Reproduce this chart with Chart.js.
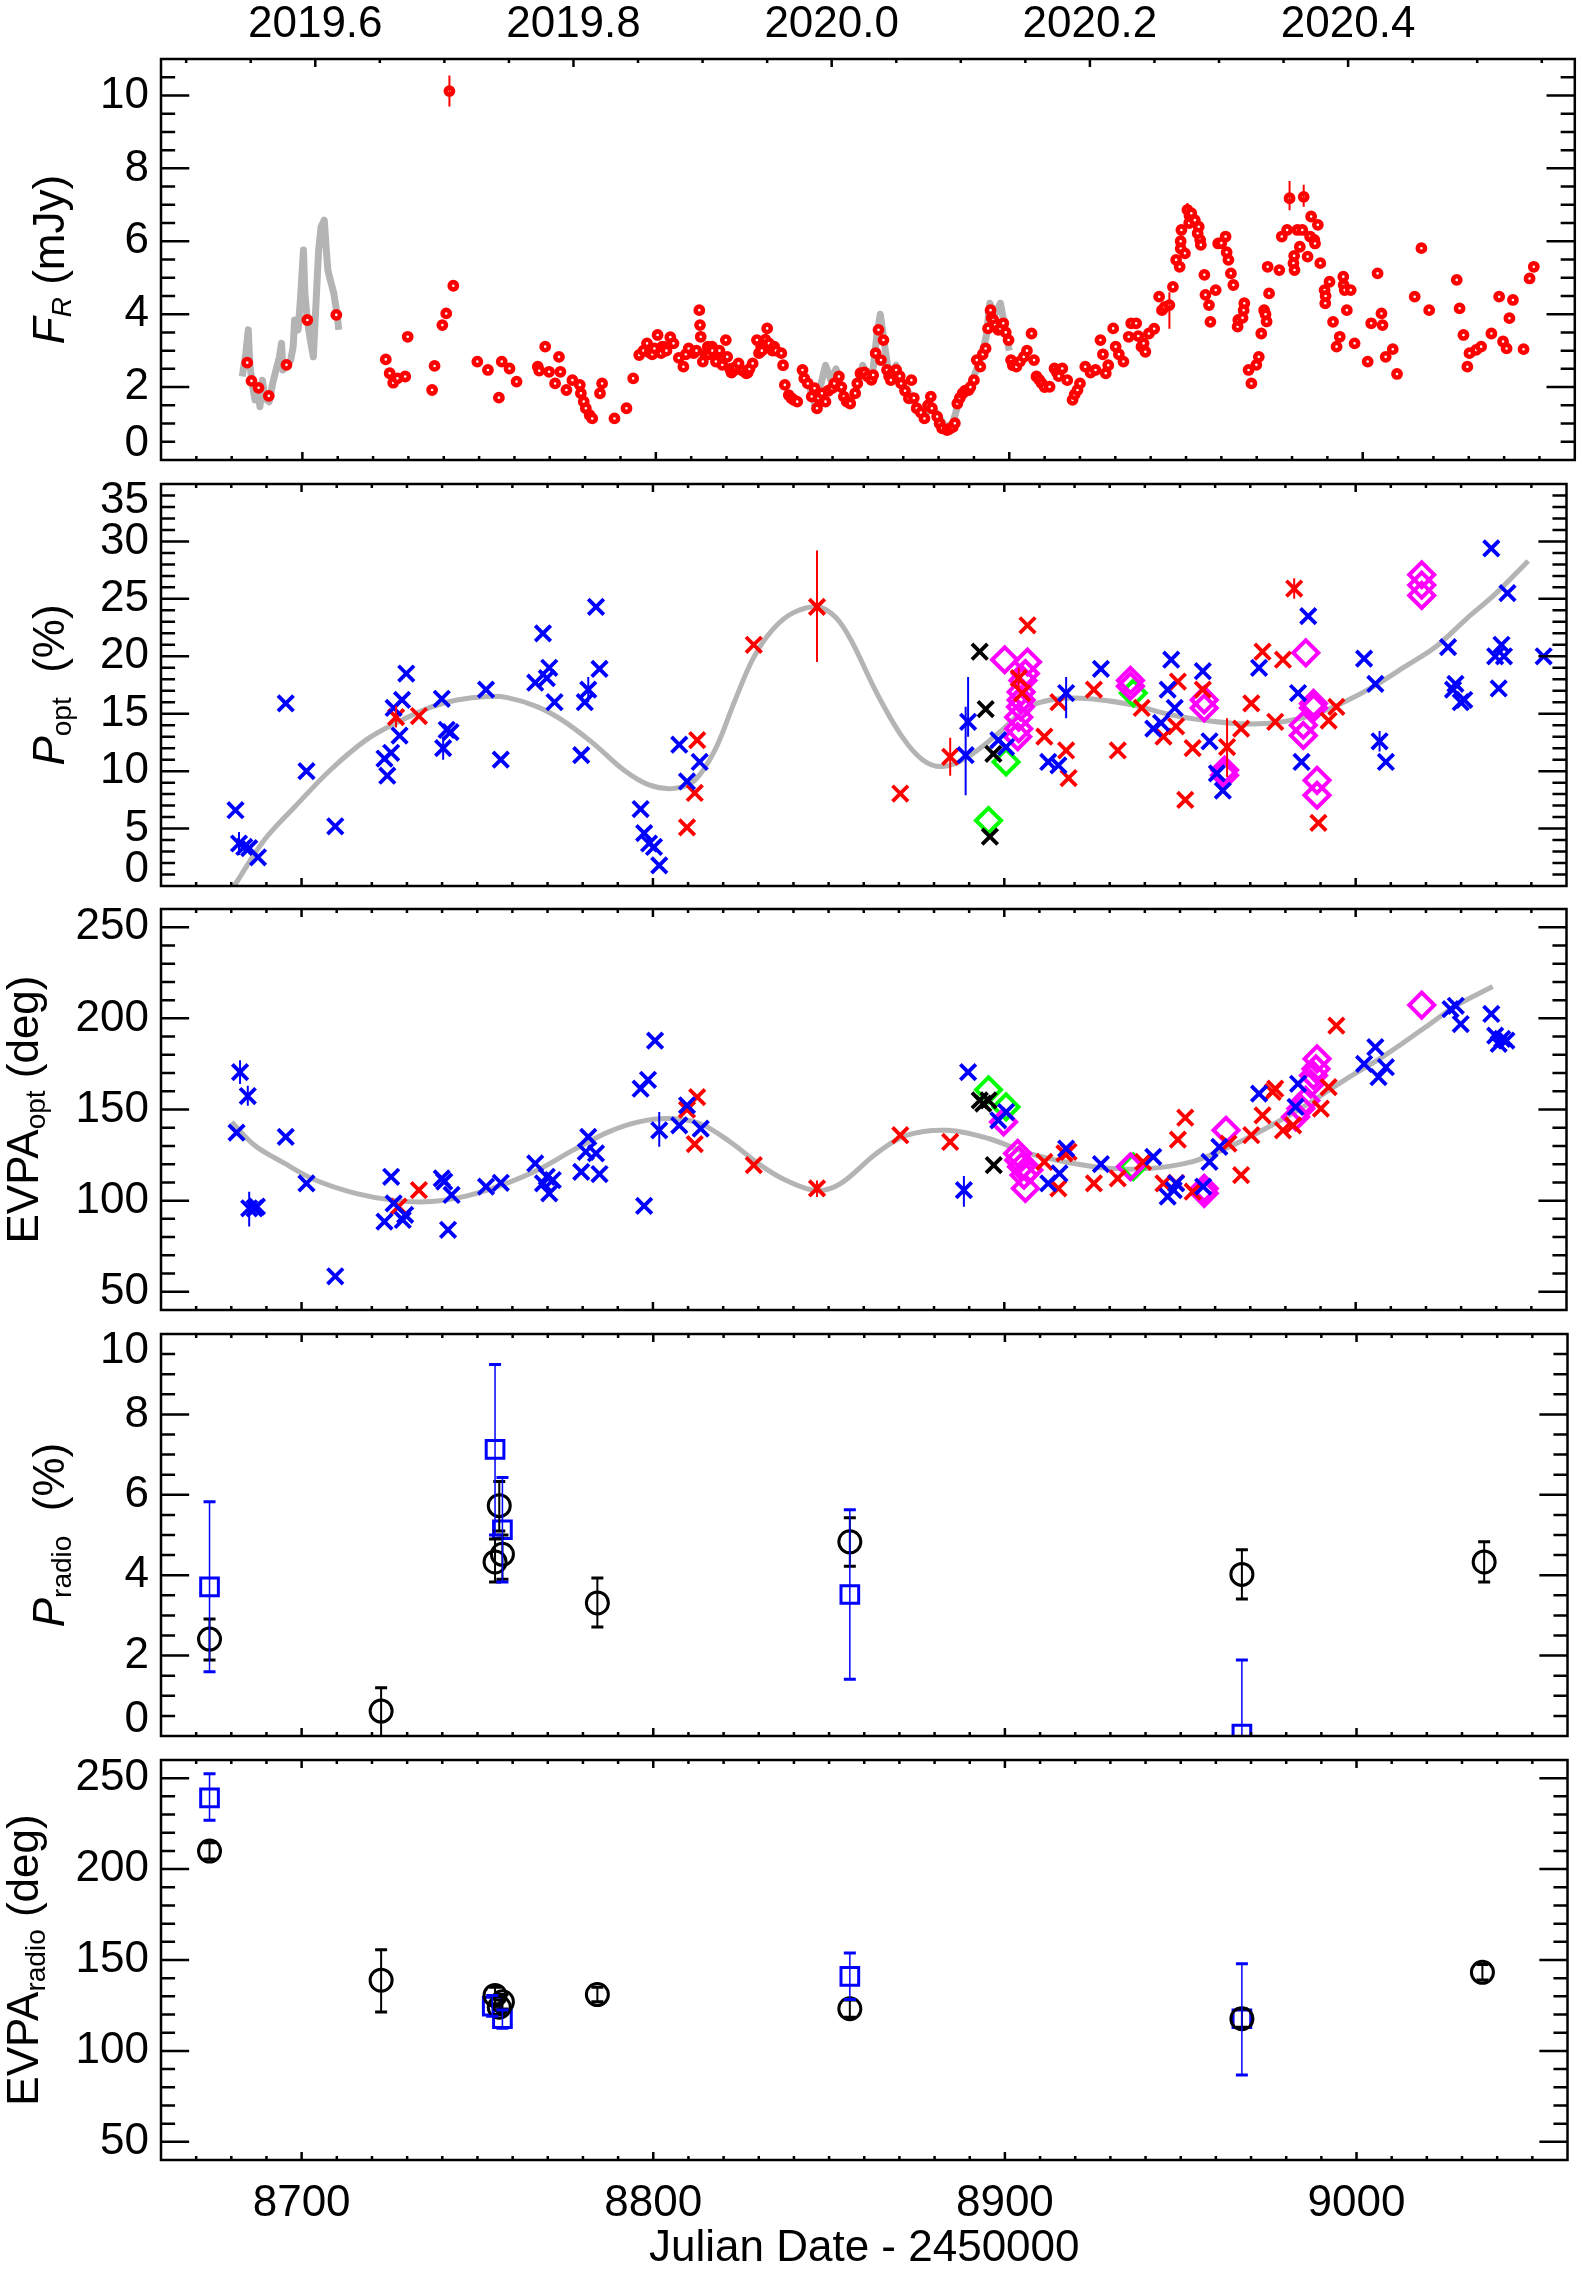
<!DOCTYPE html>
<html><head><meta charset="utf-8">
<script src="https://cdn.jsdelivr.net/npm/chart.js@4.4.1/dist/chart.umd.min.js"></script>
<style>
html,body{margin:0;padding:0;background:#fff;}
body{width:1583px;height:2271px;position:relative;overflow:hidden;}
canvas{position:absolute;left:0;}
</style></head><body>
<canvas id="c1"></canvas><canvas id="c2"></canvas><canvas id="c3"></canvas><canvas id="c4"></canvas><canvas id="c5"></canvas>
<script>
// ---------------- DATA ----------------
const jdRange = [8660, 9060];
const yearRange = [2019.4805, 2020.5756];
const jdTicks = [8700, 8800, 8900, 9000];
const yearTicks = [2019.6, 2019.8, 2020.0, 2020.2, 2020.4];
const fluxTicks = [0, 2, 4, 6, 8, 10];
const poptTicks = [0, 5, 10, 15, 20, 25, 30, 35];
const evpaTicks = [50, 100, 150, 200, 250];
const pradTicks = [0, 2, 4, 6, 8, 10];
const xTitle = 'Julian Date - 2450000';

// Panel 1: R-band flux (mJy)
const fluxRed = [[8684.4,2.67],[8685.6,2.17],[8687.6,1.98],[8690.5,1.76],[8695.5,2.61],[8701.4,3.84],[8709.6,3.98],[8723.6,2.76],[8724.7,2.38],[8725.7,2.12],[8726.9,2.24],[8729.1,2.29],[8729.8,3.38],[8736.7,1.92],[8737.4,2.58],[8739.6,3.70],[8740.7,4.02],[8741.6,10.12],[8742.7,4.78],[8749.5,2.70],[8752.5,2.47],[8755.6,1.71],[8756.4,2.70],[8758.6,2.51],[8760.6,2.15],[8766.6,2.56],[8767.0,2.45],[8768.7,3.11],[8769.8,2.42],[8771.5,2.10],[8772.6,2.83],[8773.0,2.42],[8774.7,1.92],[8776.4,2.19],[8778.5,2.06],[8778.8,1.83],[8779.6,1.60],[8780.2,1.42],[8781.3,1.23],[8782.0,1.14],[8784.2,1.83],[8784.8,2.10],[8788.3,1.14],[8791.7,1.42],[8793.6,2.24],[8795.3,2.88],[8796.5,3.00],[8797.5,3.20],[8798.2,2.95],[8799.0,2.90],[8799.6,3.06],[8800.5,3.43],[8801.5,2.93],[8801.8,3.11],[8802.5,3.10],[8803.0,3.00],[8804.1,3.37],[8805.0,3.20],[8806.5,2.80],[8807.8,2.56],[8808.5,2.90],[8809.3,3.06],[8810.7,2.93],[8811.5,3.00],[8812.3,4.11],[8812.5,3.70],[8812.7,3.38],[8813.3,2.70],[8814.0,2.90],[8814.7,3.11],[8815.0,2.90],[8815.9,3.11],[8816.0,3.00],[8816.9,2.83],[8817.0,2.70],[8817.9,2.93],[8818.0,3.00],[8818.8,2.61],[8819.0,2.80],[8819.8,3.29],[8820.2,2.83],[8821.0,2.50],[8821.4,2.40],[8822.0,2.45],[8822.5,2.55],[8823.4,2.65],[8824.5,2.45],[8825.6,2.38],[8826.0,2.40],[8826.5,2.50],[8827.4,2.65],[8828.6,3.29],[8829.2,2.93],[8829.8,3.10],[8830.0,3.00],[8831.0,3.30],[8831.5,3.61],[8832.0,3.20],[8833.0,3.00],[8833.5,3.11],[8834.0,3.00],
[8835.5,2.93],[8836.0,2.60],[8836.5,2.06],[8837.6,1.78],[8838.3,1.70],[8839.0,1.65],[8840.0,1.60],[8841.5,2.47],[8842.0,2.24],[8843.0,2.10],[8844.1,1.74],[8844.9,1.97],[8845.6,1.42],[8846.0,1.70],[8847.0,1.83],[8848.0,1.60],[8848.8,1.90],[8849.9,1.97],[8850.5,2.10],[8851.8,2.29],[8852.5,2.00],[8853.2,1.74],[8854.0,1.60],[8855.0,1.55],[8856.4,1.83],[8857.0,2.10],[8857.9,2.38],[8859.0,2.40],[8860.0,2.29],[8861.0,2.20],[8861.5,2.33],[8862.2,2.93],[8863.0,3.57],[8863.7,2.74],[8864.4,3.29],[8865.4,2.47],[8866.0,2.30],[8866.5,2.19],[8867.0,2.40],[8868.0,2.47],[8869.0,2.30],[8869.4,2.10],[8870.5,1.90],[8871.6,1.69],[8872.3,2.19],[8873.0,1.70],[8873.8,1.42],[8875.0,1.30],[8876.0,1.14],[8877.0,1.50],[8877.8,1.74],[8878.1,1.42],[8879.6,1.19],[8880.3,1.00],[8881.0,0.87],[8882.4,0.82],[8883.0,0.85],[8884.0,0.90],[8884.6,1.01],[8885.3,1.55],[8886.0,1.70],[8886.8,1.83],[8887.5,1.90],[8888.5,1.92],[8889.0,2.00],[8890.0,2.19],[8890.8,2.74],[8891.8,2.56],[8892.5,2.90],[8893.3,3.06],[8894.0,3.61],[8894.7,4.11],[8895.0,3.90],[8895.5,3.84],[8896.0,3.70],[8896.9,3.57],[8897.5,3.60],[8898.3,3.75],[8899.0,3.50],[8899.8,3.29],[8900.5,2.74],[8901.0,2.60],[8902.0,2.56],[8903.0,2.70],[8904.1,2.83],[8905.0,3.00],[8906.3,3.47],[8907.0,2.74],[8907.7,2.29],[8908.5,2.20],[8909.2,2.10],[8910.0,2.00],[8911.4,2.01],[8912.8,2.51],[8913.5,2.40],[8914.0,2.30],[8915.0,2.51],[8916.4,2.19],[8917.9,1.65],[8918.5,1.80],[8919.3,1.92],[8920.0,2.10],[8921.5,2.56],[8923.0,2.40],[8924.4,2.47],[8925.8,3.29],[8926.5,2.90],[8927.3,2.38],[8928.0,2.60],[8929.4,3.61],[8930.1,3.11],[8931.0,2.90],[8932.3,2.70],[8933.8,3.38],[8934.5,3.75],[8935.9,3.75],[8936.5,3.40],[8937.4,3.11],[8938.0,3.20],[8938.5,2.97],[8939.5,3.47],[8941.0,3.60],[8942.4,4.48],[8943.2,4.11],[8944.0,4.20],[8945.3,4.25],[8946.3,4.75],[8947.2,5.49],[8948.2,5.30],[8948.5,5.80],[8948.5,6.00],[8948.7,6.31],[8949.7,5.67],[8950.4,6.86],[8950.9,6.50],[8951.0,6.70],[8951.5,6.77],[8952.5,6.58],[8953.3,6.22],[8953.6,6.40],[8954.0,6.04],[8954.2,5.90],[8955.2,5.08],[8955.5,4.53],[8956.5,4.25],[8956.9,3.79],[8958.4,4.66],[8959.1,5.94],[8960.0,5.95],[8961.2,6.13],[8961.5,5.70],[8962.0,5.49],[8962.7,5.12],[8963.4,4.80],[8964.6,3.66],[8964.8,3.84],[8966.0,3.90],[8966.3,4.11],[8966.5,4.30],[8967.7,2.47],[8968.5,2.10],[8969.9,2.61],[8970.6,2.83],[8971.3,3.47],[8972.1,4.11],[8972.5,4.00],[8972.8,3.80],[8973.1,5.30],[8973.5,4.57],[8976.4,5.21],[8977.1,6.13],[8978.6,6.31],[8979.3,7.18],[8980.4,5.40],[8980.6,5.60],[8980.7,5.21],[8981.5,6.31],[8982.2,5.85],[8982.9,6.31],[8983.3,7.22],[8984.4,5.58],[8985.1,6.13],[8985.4,6.68],[8986.3,6.04],[8986.5,5.94],[8987.3,6.45],[8988.0,5.40],[8989.2,4.66],[8989.4,4.30],[8989.5,4.50],[8990.6,4.89],[8991.6,3.79],[8992.6,3.11],[8993.5,3.38],[8994.5,5.03],[8994.6,4.80],[8994.9,4.66],[8995.5,4.11],[8996.6,4.66],[8997.7,3.20],[9001.4,2.70],[9002.4,3.75],[9004.2,5.12],[9005.3,4.02],[9005.6,3.70],[9006.5,2.83],[9008.5,3.04],[9009.7,2.36],[9014.7,4.48],[9016.6,5.81],[9018.8,4.11],[9026.6,4.94],[9027.4,4.16],[9028.5,3.43],[9029.6,2.56],[9030.2,2.93],[9032.1,3.02],[9033.5,3.11],[9036.4,3.47],[9038.6,4.48],[9039.7,3.25],[9040.7,3.06],[9041.5,3.89],[9042.5,4.39],[9045.5,3.04],[9047.2,4.98],[9048.4,5.30]];
const fluxRedErr = [[8741.6,9.70,10.55],[8945.3,3.60,4.60],[8950.4,6.75,7.05],[8979.3,6.85,7.65],[8983.3,6.95,7.55]];
const fluxGrayA = [[8683.0,2.29],[8683.4,2.56],[8684.0,2.93],[8684.7,3.57],[8685.1,2.65],[8685.8,2.10],[8686.6,1.65],[8687.3,1.92],[8688.0,1.46],[8688.7,2.19],[8689.4,1.69],[8690.6,1.60],[8691.6,2.10],[8692.3,2.38],[8693.5,2.83],[8694.1,3.20],[8694.5,2.47],[8695.5,2.56],[8696.7,2.74],[8697.4,3.11],[8697.8,3.84],[8698.8,3.57],[8699.5,4.48],[8700.3,5.76],[8700.7,4.57],[8701.4,3.84],[8702.1,3.38],[8703.1,2.83],[8703.9,4.39],[8704.6,5.76],[8705.3,6.40],[8706.2,6.58],[8706.7,5.85],[8707.2,5.21],[8707.9,4.94],[8708.9,4.57],[8709.9,3.93],[8710.3,3.57]];
const fluxGrayB = [[8841.0,2.5],[8842.0,2.3],[8843.5,2.0],[8845.0,1.5],[8846.5,2.0],[8848.0,2.6],[8849.5,2.2],[8851.0,2.5],[8853.0,1.8],[8855.0,1.6],[8857.0,2.0],[8858.5,2.6],[8860.0,2.3],[8861.5,2.5],[8862.5,3.4],[8863.5,4.0],[8864.5,3.3],[8866.0,2.3],[8868.0,2.6],[8870.0,2.0],[8872.0,1.8],[8874.0,1.4],[8876.0,1.2],[8878.0,1.5],[8880.0,1.2],[8882.0,0.9],[8884.0,1.0],[8886.0,1.7],[8888.0,1.9],[8890.0,2.3],[8892.0,2.8],[8893.5,3.4],[8894.5,4.3],[8896.0,4.0],[8897.5,4.3],[8899.0,3.5],[8900.0,3.0]];

// Panel 2: optical polarization degree (%)
const poptBlue = [[8681.2,6.6],[8682.2,3.7],[8683.7,3.4],[8685.1,3.3],[8687.6,2.5],[8695.5,15.9],[8701.4,10.0],[8709.6,5.2],[8723.6,11.1],[8724.4,9.6],[8725.5,11.6],[8726.2,15.5],[8727.9,13.1],[8728.6,16.2],[8729.8,18.5],[8739.9,16.3],[8740.3,12.0],[8741.3,13.6],[8742.4,13.4],[8752.5,17.1],[8756.7,11.0],[8766.5,17.7],[8768.7,22.0],[8769.8,18.1],[8770.5,19.0],[8772.0,16.0],[8779.6,11.4],[8780.6,16.0],[8781.6,17.1],[8783.8,24.3],[8784.8,18.9],[8796.5,6.7],[8797.5,4.6],[8798.9,3.7],[8800.3,3.4],[8801.8,1.8],[8807.5,12.3],[8809.7,9.1],[8813.3,10.8],[8889.0,11.4],[8889.7,14.3],[8898.3,12.7],[8900.5,12.1],[8912.5,10.8],[8915.4,10.5],[8917.6,16.8],[8927.5,18.9],[8942.4,13.7],[8944.6,14.2],[8946.5,17.1],[8947.5,19.7],[8948.5,15.5],[8956.5,18.7],[8958.4,12.6],[8960.5,9.8],[8962.2,8.3],[8972.5,19.0],[8983.6,16.8],[8984.6,10.8],[8986.5,23.5],[9002.4,19.8],[9005.6,17.6],[9006.8,12.6],[9008.6,10.8],[9026.3,20.8],[9027.7,17.1],[9028.4,17.6],[9029.9,16.0],[9030.9,16.2],[9038.6,29.4],[9039.7,20.0],[9040.7,17.2],[9041.5,21.0],[9042.2,20.0],[9043.2,25.5],[9053.5,20.0]];
const poptRed = [[8726.9,14.7],[8733.4,14.8],[8809.7,5.1],[8811.9,8.1],[8812.6,12.7],[8828.7,21.0],[8846.7,24.3],[8870.4,8.05],[8884.6,11.25],[8904.1,18.1],[8905.1,16.8],[8906.6,22.7],[8911.4,13.0],[8915.4,16.0],[8917.6,11.8],[8918.3,9.4],[8925.5,17.1],[8932.3,11.8],[8939.1,15.5],[8945.3,13.0],[8948.9,13.9],[8949.4,17.8],[8951.5,7.5],[8953.6,12.0],[8956.5,17.1],[8963.4,12.1],[8967.4,13.7],[8970.3,15.9],[8973.5,20.4],[8977.1,14.3],[8979.3,19.7],[8982.5,25.9],[8989.4,5.5],[8992.3,14.4],[8994.5,15.6]];
const poptBlack = [[8893.0,20.4],[8894.7,15.4],[8896.9,11.5],[8895.9,4.3]];
const poptMagenta = [[8900.1,19.7],[8906.6,19.5],[8906.0,18.5],[8905.3,17.9],[8904.8,16.9],[8904.8,16.2],[8904.6,15.6],[8904.1,14.7],[8904.1,13.7],[8903.8,13.0],[8935.9,17.9],[8935.9,17.4],[8956.9,16.2],[8956.9,15.5],[8962.7,10.1],[8962.7,9.65],[8985.8,20.3],[8988.0,15.9],[8988.0,15.5],[8985.1,14.0],[8985.1,13.1],[8989.0,9.2],[8989.0,7.9],[9018.8,27.1],[9018.8,26.2],[9018.8,25.3]];
const poptGreen = [[8900.5,10.8],[8895.5,5.7],[8936.7,16.8]];
const poptBlueErr = [[8682.2,2.7,4.7],[8740.3,11.0,13.0],[8781.6,16.0,18.2],[8889.0,7.9,15.6],[8889.7,13.0,18.2],[8917.6,14.6,18.2],[9006.8,11.7,13.5]];
const poptRedErr = [[8726.9,13.8,15.7],[8846.7,19.5,29.2],[8884.6,9.6,12.9],[8904.1,17.0,19.0],[8963.4,9.5,14.6],[8982.5,25.0,26.8]];
const poptFit = [[8680.8,0.0],[8689.4,4.0],[8698.1,6.9],[8708.2,10.1],[8718.3,12.7],[8726.9,14.2],[8737.0,15.6],[8744.2,16.2],[8752.8,16.5],[8758.6,16.4],[8767.2,15.6],[8774.4,14.4],[8783.1,12.4],[8791.7,10.1],[8798.9,8.8],[8806.1,8.5],[8811.9,9.2],[8817.6,11.8],[8823.4,16.2],[8828.5,19.8],[8834.0,22.3],[8840.0,23.8],[8847.0,24.3],[8852.0,23.4],[8856.4,21.4],[8863.7,16.8],[8870.9,13.0],[8876.7,11.0],[8882.4,10.4],[8889.7,11.25],[8898.3,13.3],[8907.0,15.6],[8915.7,16.3],[8924.4,16.3],[8936.0,15.8],[8947.5,14.9],[8957.6,14.4],[8969.2,14.1],[8979.3,14.3],[8988.0,14.9],[8996.6,16.0],[9005.3,17.4],[9014.0,19.1],[9022.7,20.8],[9031.3,23.2],[9040.0,25.5],[9049.1,28.3]];

// Panel 3: optical EVPA (deg)
const evpaBlue = [[8681.5,137.3],[8682.5,170.5],[8684.7,157.4],[8685.1,95.8],[8686.6,95.8],[8687.3,96.7],[8695.5,135.0],[8701.4,109.5],[8709.6,58.5],[8723.6,88.5],[8725.5,113.1],[8726.2,98.5],[8728.8,89.4],[8729.5,92.2],[8739.9,112.2],[8740.6,110.4],[8741.7,84.0],[8742.7,103.1],[8752.5,107.7],[8756.7,109.8],[8766.5,120.4],[8768.7,109.5],[8769.8,113.1],[8770.5,104.0],[8771.5,111.3],[8779.6,115.8],[8780.9,126.8],[8781.6,135.0],[8783.8,125.9],[8784.8,114.6],[8796.5,161.4],[8797.5,97.1],[8798.6,166.3],[8800.6,187.8],[8801.8,138.6],[8807.5,141.3],[8809.7,152.3],[8813.6,139.5],[8888.5,105.8],[8889.7,170.5],[8898.3,144.1],[8900.5,148.6],[8912.5,109.5],[8915.7,114.9],[8917.6,128.6],[8927.5,120.0],[8942.4,124.0],[8946.5,102.2],[8948.2,105.8],[8948.9,109.5],[8956.6,107.7],[8958.4,121.3],[8961.2,129.5],[8972.5,158.7],[8982.9,151.4],[8983.6,164.1],[9002.4,175.0],[9005.6,184.2],[9006.5,167.8],[9008.6,173.2],[9027.0,205.1],[9028.5,206.9],[9029.9,196.9],[9038.6,202.4],[9039.7,190.5],[9040.7,186.0],[9041.7,188.7],[9042.9,187.8]];
const evpaRed = [[8727.6,96.7],[8733.4,105.8],[8809.7,149.9],[8811.9,131.0],[8812.6,156.8],[8828.7,119.5],[8846.7,106.7],[8870.4,135.9],[8884.6,132.2],[8911.4,121.3],[8915.4,106.7],[8917.1,125.9],[8918.3,126.8],[8925.5,109.5],[8932.3,112.2],[8939.5,121.3],[8945.3,109.5],[8948.9,109.8],[8949.4,133.5],[8951.5,145.5],[8953.6,104.9],[8963.8,131.3],[8967.4,114.0],[8970.3,135.9],[8973.5,146.8],[8976.4,159.6],[8977.1,161.4],[8979.3,138.6],[8982.2,141.3],[8990.1,150.5],[8992.3,162.3],[8994.5,196.0]];
const evpaBlack = [[8893.0,155.0],[8894.0,153.2],[8895.5,155.0],[8897.0,119.5]];
const evpaMagenta = [[8899.8,143.2],[8903.8,125.9],[8904.1,122.2],[8904.9,118.6],[8905.6,114.0],[8906.0,106.7],[8907.0,116.8],[8935.9,118.6],[8956.9,106.7],[8956.9,104.0],[8963.1,138.6],[8982.9,145.9],[8984.4,150.5],[8985.8,155.0],[8987.2,164.1],[8988.0,168.7],[8988.7,172.3],[8989.0,177.8],[9018.8,207.3]];
const evpaGreen = [[8895.5,160.8],[8900.5,151.4],[8936.7,118.6]];
const evpaBlueErr = [[8682.5,164.0,177.0],[8684.7,152.0,163.0],[8685.1,85.8,104.9],[8801.8,129.5,148.6],[8888.5,96.7,113.5]];
const evpaRedErr = [[8846.7,102.0,111.0]];
const evpaFit = [[8680.1,143.2],[8686.6,130.4],[8695.2,120.4],[8703.9,111.3],[8715.4,104.0],[8726.9,100.0],[8737.0,99.5],[8747.1,102.6],[8757.1,108.6],[8767.2,116.8],[8777.3,127.7],[8787.4,137.7],[8796.0,143.2],[8804.7,145.0],[8813.3,142.3],[8822.0,132.2],[8830.6,119.5],[8838.0,111.0],[8846.7,105.5],[8853.5,109.5],[8863.6,125.9],[8872.3,135.9],[8883.9,138.6],[8895.5,134.1],[8907.0,125.9],[8918.6,120.8],[8930.2,117.7],[8941.7,117.7],[8953.3,121.3],[8962.0,127.7],[8973.5,138.6],[8985.1,151.4],[8996.6,165.9],[9008.2,179.6],[9019.8,195.1],[9028.5,206.9],[9039.0,217.5]];

// Panel 4: radio polarization degree (%)
const pradBlack = [[8673.8,2.41],[8722.6,0.62],[8755.0,4.33],[8756.2,5.73],[8757.1,4.52],[8784.1,3.31],[8855.9,4.83],[8967.4,4.02],[9036.3,4.33]];
const pradBlackErr = [[1.89,2.91],[-0.2,1.2],[3.83,4.9],[5.1,6.33],[3.9,5.0],[2.71,3.93],[4.22,5.43],[3.41,4.63],[3.83,4.83]];
const pradBlue = [[8673.8,3.71],[8755.0,7.13],[8757.1,5.13],[8855.9,3.52],[8967.4,0.05]];
const pradBlueErr = [[1.6,5.83],[5.0,9.24],[3.83,6.43],[1.41,5.63],[-1.0,1.89]];

// Panel 5: radio EVPA (deg)
const evrBlack = [[8673.8,209.9],[8722.6,138.9],[8755.0,130.5],[8756.2,124.0],[8757.1,127.0],[8784.1,131.0],[8855.9,123.2],[8967.4,117.7],[9035.8,143.2]];
const evrBlackErr = [[205.5,214.5],[121.4,155.7],[126,135],[120,128],[123,131],[127,135],[118.5,128],[113,123],[139,147.5]];
const evrBlue = [[8673.8,239.2],[8754.2,124.6],[8757.1,117.7],[8855.9,141.0],[8967.4,117.7]];
const evrBlueErr = [[226.8,252.4],[119,130.5],[112.5,122.5],[128.3,153.8],[86.7,148.0]];

// ---------------- LAYOUT / STYLE ----------------
const FIG_W = 1583, FIG_H = 2271, PLOT_L = 161, PLOT_R = 1578, EXTRA = 60;
const PANELS = [[59,460],[484,886],[909,1310],[1334,1736],[1760,2160]];
const FONT = "'Liberation Sans', Arial, Helvetica, sans-serif";
Chart.defaults.font.family = FONT;
Chart.defaults.font.size = 44;
Chart.defaults.color = '#000';

const SIDE = {};

function tickVals(min, max, step){
  const out=[]; const k0=Math.ceil(min/step-1e-7), k1=Math.floor(max/step+1e-7);
  for(let k=k0;k<=k1;k++) out.push(k*step);
  return out;
}
function isMul(v, s){ const r=v/s; return Math.abs(r-Math.round(r))<1e-6; }

const idlAxes = {
  id:'idlAxes',
  afterDraw(chart){
    const o = SIDE[chart.canvas.id]; if(!o) return;
    const ctx=chart.ctx, a=chart.chartArea;
    const W=a.right-a.left, H=a.bottom-a.top;
    ctx.save();
    ctx.strokeStyle='#000'; ctx.lineWidth=2.5; ctx.lineCap='butt';
    ctx.beginPath();
    const ys=chart.scales.y;
    for(const v of tickVals(ys.min, ys.max, o.yMinor)){
      if(Math.abs(v-ys.min)<1e-7||Math.abs(v-ys.max)<1e-7) continue;
      const L = isMul(v,o.yMajor)?0.02*W:0.01*W;
      const p = ys.getPixelForValue(v);
      ctx.moveTo(a.left,p); ctx.lineTo(a.left+L,p);
      ctx.moveTo(a.right,p); ctx.lineTo(a.right-L,p);
    }
    const xs=chart.scales.x;
    for(const v of tickVals(xs.min, xs.max, 10)){
      if(Math.abs(v-xs.min)<1e-7||Math.abs(v-xs.max)<1e-7) continue;
      const L = isMul(v,100)?0.02*H:0.01*H;
      const p = xs.getPixelForValue(v);
      ctx.moveTo(p,a.bottom); ctx.lineTo(p,a.bottom-L);
      if(!o.topYears){ ctx.moveTo(p,a.top); ctx.lineTo(p,a.top+L); }
    }
    if(o.topYears){
      const ts=chart.scales.x2;
      for(const v of tickVals(ts.min, ts.max, 0.05)){
        const L = isMul(v,0.2)?0.02*H:0.01*H;
        const p = ts.getPixelForValue(v);
        ctx.moveTo(p,a.top); ctx.lineTo(p,a.top+L);
      }
    }
    ctx.stroke();
    ctx.strokeRect(a.left, a.top, W, H);
    const cy=(a.top+a.bottom)/2;
    ctx.translate(o.titleX, cy); ctx.rotate(-Math.PI/2);
    const fontOf = p => (p.it?'italic ':'')+(p.sub?28:44)+'px '+FONT;
    let total=0;
    o.title.forEach(p=>{ ctx.font=fontOf(p); p.w=ctx.measureText(p.t).width; total+=p.w; });
    let x=-total/2; ctx.fillStyle='#000'; ctx.textBaseline='alphabetic'; ctx.textAlign='left';
    o.title.forEach(p=>{ ctx.font=fontOf(p); ctx.fillText(p.t, x, p.sub?7:0); x+=p.w; });
    ctx.restore();
  }
};

const errBars = {
  id:'errBars',
  afterDatasetsDraw(chart){
    const o = SIDE[chart.canvas.id]; if(!o || !o.err) return;
    const ctx=chart.ctx, a=chart.chartArea, xs=chart.scales.x, ys=chart.scales.y;
    ctx.save();
    ctx.beginPath(); ctx.rect(a.left,a.top,a.right-a.left,a.bottom-a.top); ctx.clip();
    o.err.forEach(g=>{
      ctx.strokeStyle=g.color; ctx.lineWidth=g.width; ctx.beginPath();
      g.pts.forEach(e=>{
        const x=xs.getPixelForValue(e[0]), y1=ys.getPixelForValue(e[1]), y2=ys.getPixelForValue(e[2]);
        ctx.moveTo(x,y1); ctx.lineTo(x,y2);
      });
      ctx.stroke();
      if(g.cap){
        ctx.lineWidth=g.capWidth; ctx.beginPath();
        g.pts.forEach(e=>{
          const x=xs.getPixelForValue(e[0]);
          [e[1],e[2]].forEach(v=>{ const y=ys.getPixelForValue(v); ctx.moveTo(x-g.cap,y); ctx.lineTo(x+g.cap,y); });
        });
        ctx.stroke();
      }
    });
    ctx.restore();
  }
};
Chart.register(idlAxes, errBars);

const pts = arr => arr.map(p=>({x:p[0], y:p[1]}));
function markers(arr, style, color, r, bw, bg){
  return {data:pts(arr), showLine:false, pointStyle:style, pointRadius:r, pointHoverRadius:r,
    pointBorderColor:color, pointBackgroundColor:bg||'rgba(0,0,0,0)', pointBorderWidth:bw,
    borderColor:color, backgroundColor:bg||'rgba(0,0,0,0)', order:1};
}
function curve(arr, color, w, tension){
  return {data:pts(arr), showLine:true, pointRadius:0, pointHoverRadius:0, borderColor:color,
    borderWidth:w, tension:tension, fill:false, order:5, borderJoinStyle:'round', borderCapStyle:'butt'};
}
const withErr = (p, e) => p.map((q,i)=>[q[0], e[i][0], e[i][1]]);
const setTicks = vals => (s => { s.ticks = vals.map(v=>({value:v})); });

function makePanel(idx, datasets, yMin, yMax, yTickVals, yMajor, yMinor, side){
  const [pt,pb] = PANELS[idx];
  const cTop = idx===0 ? 0 : pt-EXTRA;
  const cBot = idx===4 ? FIG_H : pb+EXTRA;
  const cv = document.getElementById('c'+(idx+1));
  cv.width = FIG_W; cv.height = cBot-cTop; cv.style.top = cTop+'px';
  side.yMajor = yMajor; side.yMinor = yMinor; side.topYears = idx===0;
  SIDE[cv.id] = side;
  const bottomAxis = idx===4;
  const yLabel = v => v===yMax ? ['', String(v)] : (v===yMin ? [String(v), ''] : String(v));
  const scales = {
    x: {type:'linear', min:jdRange[0], max:jdRange[1], display: bottomAxis, position:'bottom',
        grid:{display:false, drawTicks:false}, border:{display:false},
        afterBuildTicks: setTicks(jdTicks),
        ticks:{autoSkip:false, maxRotation:0, minRotation:0, padding:22,
               font:{size:44, lineHeight:1}, callback:v=>String(v)},
        title:{display: bottomAxis, text:xTitle, padding:{top:0,bottom:0}, font:{size:44, lineHeight:1}},
        afterFit: s=>{ s.height = bottomAxis ? FIG_H-pb : 0; }},
    y: {type:'linear', min:yMin, max:yMax,
        grid:{display:false, drawTicks:false}, border:{display:false},
        afterBuildTicks: setTicks(yTickVals),
        ticks:{autoSkip:false, padding:12, font:{size:44, lineHeight:0.75}, callback:yLabel},
        afterFit: s=>{ s.width = PLOT_L; }}
  };
  if(idx===0){
    scales.x2 = {type:'linear', axis:'x', position:'top', min:yearRange[0], max:yearRange[1],
        grid:{display:false, drawTicks:false}, border:{display:false},
        afterBuildTicks: setTicks(yearTicks),
        ticks:{autoSkip:false, maxRotation:0, minRotation:0, padding:12,
               font:{size:44, lineHeight:1}, callback:v=>v.toFixed(1)},
        afterFit: s=>{ s.height = pt; }};
  }
  new Chart(cv, {
    type:'scatter',
    data:{datasets},
    options:{
      responsive:false, animation:false, devicePixelRatio:1, events:[],
      layout:{padding:{left:0, right:FIG_W-PLOT_R, top: idx===0?0:pt-cTop, bottom: bottomAxis?0:cBot-pb}},
      plugins:{legend:{display:false}, tooltip:{enabled:false}, title:{display:false}},
      scales
    }
  });
}

const RED='#ff0000', BLUE='#0000ff', BLACK='#000000', MAG='#ff00ff', GREEN='#00ff00', GRAY='#b4b4b4';

makePanel(0, [
  curve(fluxGrayA, GRAY, 7, 0),
  curve(fluxGrayB, GRAY, 7, 0),
  markers(fluxRed, 'circle', RED, 3.6, 4.6, '#ffffff')
], 0, 11, fluxTicks, 2, 0.5, {titleX:64, title:[{t:'F',it:1},{t:'R',it:1,sub:1},{t:' (mJy)'}],
  err:[{color:RED, width:2, pts:fluxRedErr}]});

makePanel(1, [
  curve(poptFit, GRAY, 5, 0.35),
  markers(poptBlue, 'crossRot', BLUE, 11, 3.8),
  markers(poptRed, 'crossRot', RED, 11, 3.8),
  markers(poptBlack, 'crossRot', BLACK, 11, 3.8),
  markers(poptMagenta, 'rectRot', MAG, 12.5, 4),
  markers(poptGreen, 'rectRot', GREEN, 12.5, 4)
], 0, 35, poptTicks, 5, 1, {titleX:64, title:[{t:'P',it:1},{t:'opt',sub:1},{t:'  (%)'}],
  err:[{color:BLUE, width:2, pts:poptBlueErr},{color:RED, width:2, pts:poptRedErr}]});

makePanel(2, [
  curve(evpaFit, GRAY, 5, 0.35),
  markers(evpaBlue, 'crossRot', BLUE, 11, 3.8),
  markers(evpaRed, 'crossRot', RED, 11, 3.8),
  markers(evpaBlack, 'crossRot', BLACK, 11, 3.8),
  markers(evpaMagenta, 'rectRot', MAG, 12.5, 4),
  markers(evpaGreen, 'rectRot', GREEN, 12.5, 4)
], 40, 260, evpaTicks, 50, 10, {titleX:38, title:[{t:'EVPA'},{t:'opt',sub:1},{t:' (deg)'}],
  err:[{color:BLUE, width:2, pts:evpaBlueErr},{color:RED, width:2, pts:evpaRedErr}]});

makePanel(3, [
  markers(pradBlack, 'circle', BLACK, 11, 3),
  markers(pradBlue, 'rect', BLUE, 12.5, 3)
], 0, 10, pradTicks, 2, 0.5, {titleX:64, title:[{t:'P',it:1},{t:'radio',sub:1},{t:'  (%)'}],
  err:[{color:BLACK, width:2, cap:6, capWidth:3, pts:withErr(pradBlack, pradBlackErr)},
       {color:BLUE, width:1.5, cap:6, capWidth:3, pts:withErr(pradBlue, pradBlueErr)}]});

makePanel(4, [
  markers(evrBlack, 'circle', BLACK, 11, 3),
  markers(evrBlue, 'rect', BLUE, 12.5, 3)
], 40, 260, evpaTicks, 50, 10, {titleX:38, title:[{t:'EVPA'},{t:'radio',sub:1},{t:' (deg)'}],
  err:[{color:BLACK, width:2, cap:6, capWidth:3, pts:withErr(evrBlack, evrBlackErr)},
       {color:BLUE, width:1.5, cap:6, capWidth:3, pts:withErr(evrBlue, evrBlueErr)}]});
</script>
</body></html>
